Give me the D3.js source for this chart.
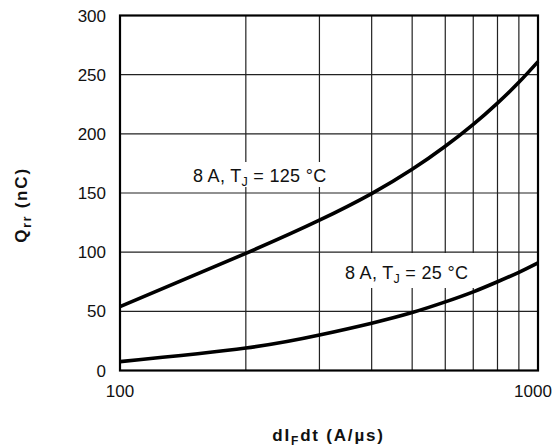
<!DOCTYPE html>
<html><head><meta charset="utf-8">
<script src="https://cdn.jsdelivr.net/npm/d3@7"></script>
<style>body{margin:0;background:#fff}svg{display:block;font-family:"Liberation Sans",Arial,sans-serif}</style>
</head><body><svg id="c" width="555" height="448"></svg>
<script>
const xValues = [100, 200, 300, 400, 500, 600, 700, 800, 900, 1000];
const q125 = [54, 99, 127, 149.5, 170, 189.5, 208, 226, 243.5, 261];
const q25 = [7.5, 19, 30, 40, 49, 58, 66.5, 75, 83, 91];
const yTicks = [0, 50, 100, 150, 200, 250, 300];
const xTickLabels = [100, 1000];
const xGrid = [200, 300, 400, 500, 600, 700, 800, 900];
const seriesLabels = ["125", "25"];

const svg = d3.select("#c");
const L = 120, R = 538, T = 15.5, B = 370.5;
const x = d3.scaleLog().domain([100, 1000]).range([L, R]);
const y = d3.scaleLinear().domain([0, 300]).range([B, T]);

// grid
svg.append("g").selectAll("line").data(xGrid).join("line")
  .attr("x1", d => x(d)).attr("x2", d => x(d)).attr("y1", T).attr("y2", B)
  .attr("stroke", "#222").attr("stroke-width", 1.2);
svg.append("g").selectAll("line").data(yTicks.slice(1, -1)).join("line")
  .attr("x1", L).attr("x2", R).attr("y1", d => y(d)).attr("y2", d => y(d))
  .attr("stroke", "#222").attr("stroke-width", 1.2);

// label backgrounds
const labels = [
  {lx: 193, ly: 182, box: [187, 162, 146, 25], t: seriesLabels[0]},
  {lx: 345, ly: 279, box: [337, 253, 146, 35], t: seriesLabels[1]}
];
svg.append("g").selectAll("rect").data(labels).join("rect")
  .attr("x", d => d.box[0]).attr("y", d => d.box[1]).attr("width", d => d.box[2]).attr("height", d => d.box[3])
  .attr("fill", "#fff");

// curves
const line = d3.line().x(d => x(d[0])).y(d => y(d[1])).curve(d3.curveNatural);
[q125, q25].forEach(s => {
  svg.append("path").datum(xValues.map((v, i) => [v, s[i]]))
    .attr("d", line).attr("fill", "none").attr("stroke", "#000").attr("stroke-width", 3.6);
});

// frame
svg.append("rect").attr("x", L).attr("y", T).attr("width", R - L).attr("height", B - T)
  .attr("fill", "none").attr("stroke", "#000").attr("stroke-width", 2.2);

// y tick labels
svg.append("g").selectAll("text").data(yTicks).join("text")
  .attr("x", 106).attr("y", d => y(d)).attr("dy", "0.36em")
  .attr("text-anchor", "end").attr("font-size", 17).attr("fill", "#111").text(d => d);

// x tick labels
svg.append("g").selectAll("text").data(xTickLabels).join("text")
  .attr("x", d => x(d) - (d === 1000 ? 5 : 0)).attr("y", 397)
  .attr("text-anchor", "middle").attr("font-size", 17).attr("fill", "#111").text(d => d);

// series labels
labels.forEach(d => {
  const t = svg.append("text").attr("x", d.lx).attr("y", d.ly).attr("font-size", 18)
    .attr("letter-spacing", 0.3).attr("fill", "#111");
  t.append("tspan").text("8 A, T");
  t.append("tspan").attr("font-size", 12.5).attr("dy", 4).text("J");
  t.append("tspan").attr("dy", -4).text(" = " + d.t + " °C");
});

// axis titles
const xt = svg.append("text").attr("x", 328.5).attr("y", 441).attr("text-anchor", "middle")
  .attr("font-size", 17).attr("letter-spacing", 1.8).attr("font-weight", "bold").attr("fill", "#111");
xt.append("tspan").text("dI");
xt.append("tspan").attr("font-size", 12).attr("dy", 4).text("F");
xt.append("tspan").attr("dy", -4).text("dt (A/µs)");

const yt = svg.append("text").attr("transform", "translate(27,205) rotate(-90)").attr("text-anchor", "middle")
  .attr("font-size", 17).attr("letter-spacing", 1.8).attr("font-weight", "bold").attr("fill", "#111");
yt.append("tspan").text("Q");
yt.append("tspan").attr("font-size", 12).attr("dy", 4).text("rr");
yt.append("tspan").attr("dy", -4).text(" (nC)");
</script></body></html>
